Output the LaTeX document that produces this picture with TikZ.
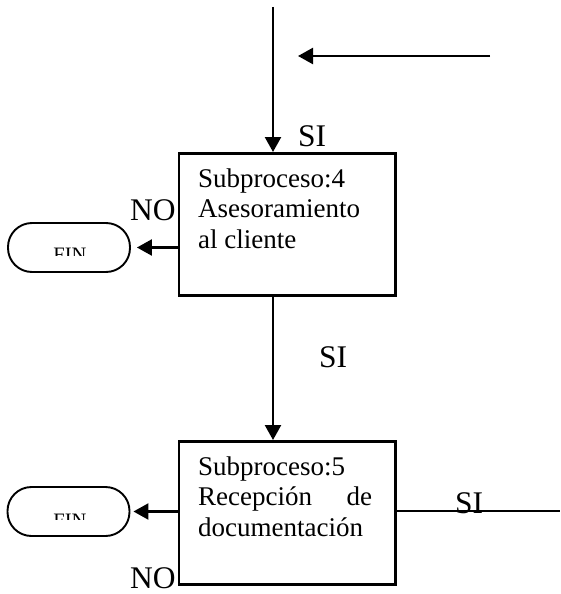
\documentclass[tikz,border=0pt]{standalone}
\usepackage{fontspec}
\setmainfont{Liberation Serif}
\usetikzlibrary{arrows.meta}
\begin{document}
\begin{tikzpicture}[x=1pt,y=-1pt,
  procbox/.style={draw,line width=2.6pt,inner sep=0pt,minimum width=216.5pt},
  endbox/.style={draw,line width=1.9pt,rounded corners=24pt,inner sep=0pt,
    minimum width=122pt,minimum height=49pt},
  boxtext/.style={inner sep=0pt,font=\fontsize{27}{31}\selectfont},
  lbl/.style={inner sep=0pt,font=\fontsize{31.5}{36}\selectfont},
  fintext/.style={inner sep=0pt,font=\fontsize{20.5}{24}\selectfont},
  flow/.style={line width=2.4pt,-{Triangle[length=15pt,width=16pt]}},
  plain/.style={line width=2.4pt}]
\useasboundingbox (0,0) rectangle (560,594);

% process boxes
\node[procbox,minimum height=142pt,anchor=north west] (b4) at (177.5,152) {};
\node[procbox,minimum height=143pt,anchor=north west] (b5) at (177.5,440) {};

\node[boxtext,anchor=base west] (t4a) at (198,187) {Subproceso:4};
\node[boxtext,anchor=base west] (t4b) at (198,217) {Asesoramiento};
\node[boxtext,anchor=base west] (t4c) at (198,248) {al cliente};

\node[boxtext,anchor=base west] (t5a) at (198,475) {Subproceso:5};
\node[boxtext,anchor=base west] (t5b) at (198,505) {\hbox to 174pt{Recepción\hfill de}};
\node[boxtext,anchor=base west] (t5c) at (198,536) {documentación};

% terminators
\node[endbox] (fin1) at (69,247.5) {};
\node[endbox] (fin2) at (68.5,511.5) {};
\begin{scope}
  \clip (0,200) rectangle (200,255);
  \node[fintext,anchor=base] (f1) at (70,261) {FIN};
\end{scope}
\begin{scope}
  \clip (0,480) rectangle (200,519);
  \node[fintext,anchor=base] (f2) at (70,527) {FIN};
\end{scope}

% free ends
\coordinate (top) at (273,7);
\coordinate (inR) at (490,56);
\coordinate (inL) at (298,56);
\coordinate (outR) at (560,511);

% connectors
\draw[flow] (top) -- (top |- b4.north);
\draw[flow] (inR) -- (inL);
\draw[flow] (b4.south -| top) -- (b5.north -| top);
\draw[flow,shorten >=6pt] (b4.west |- fin1) -- (fin1.east);
\draw[flow,shorten >=3pt] (b5.west |- fin2) -- (fin2.east);
\draw[plain] (b5.east |- outR) -- (outR);

% labels
\node[lbl,anchor=base west] (si1) at (298,146) {SI};
\node[lbl,anchor=base west] (no1) at (130,220) {NO};
\node[lbl,anchor=base west] (si2) at (319,367) {SI};
\node[lbl,anchor=base west] (si3) at (455,513) {SI};
\node[lbl,anchor=base west] (no2) at (130,588) {NO};
\end{tikzpicture}
\end{document}
